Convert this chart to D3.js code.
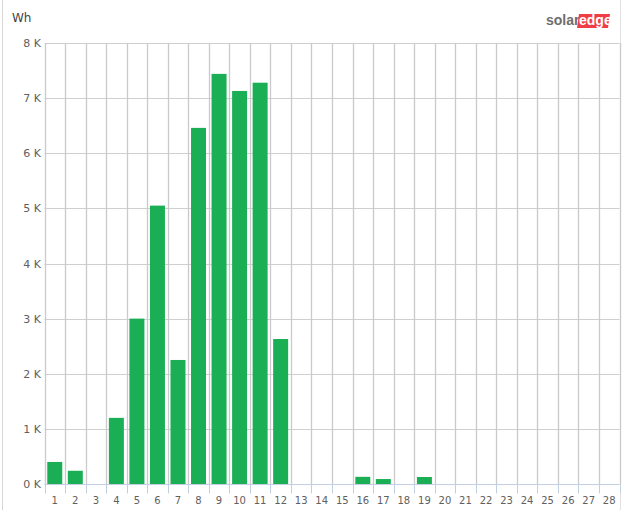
<!DOCTYPE html>
<html>
<head>
<meta charset="utf-8">
<script src="https://cdn.jsdelivr.net/npm/d3@7"></script>
<style>
  html, body { margin: 0; padding: 0; background: #fff; }
  svg { display: block; }
</style>
</head>
<body>
<svg id="chart" width="624" height="510"></svg>
<script>
const days = ["1","2","3","4","5","6","7","8","9","10","11","12","13","14","15","16","17","18","19","20","21","22","23","24","25","26","27","28"];
const energyWh = [400, 240, 0, 1200, 3000, 5050, 2250, 6460, 7440, 7130, 7280, 2630, 0, 0, 0, 130, 90, 0, 127, 0, 0, 0, 0, 0, 0, 0, 0, 0];
const yTicks = [0, 1000, 2000, 3000, 4000, 5000, 6000, 7000, 8000];
const yTickLabels = ["0 K", "1 K", "2 K", "3 K", "4 K", "5 K", "6 K", "7 K", "8 K"];
const unitLabel = "Wh";

const svg = d3.select("#chart");
const W = 624, H = 510;
const m = { left: 44.5, right: 4.5, top: 43, bottom: 26 };
const plotR = W - m.right;
const plotB = H - m.bottom;
const font = "'DejaVu Sans', Verdana, sans-serif";

// panel borders
svg.append("line").attr("x1", 2.5).attr("x2", 2.5).attr("y1", 0).attr("y2", H)
  .attr("stroke", "#d6d6d6").attr("stroke-width", 1);
svg.append("line").attr("x1", 620.5).attr("x2", 620.5).attr("y1", 0).attr("y2", H)
  .attr("stroke", "#e2e2e2").attr("stroke-width", 1);

const x = d3.scaleBand().domain(days).range([m.left, plotR]).paddingInner(0.27).paddingOuter(0.135);
const xb = d3.scaleBand().domain(days).range([m.left, plotR]);
const y = d3.scaleLinear().domain([0, 8000]).range([plotB, m.top]);

// horizontal gridlines
svg.append("g").selectAll("line").data(yTicks).join("line")
  .attr("x1", m.left).attr("x2", plotR)
  .attr("y1", d => Math.round(y(d)) + 0.5).attr("y2", d => Math.round(y(d)) + 0.5)
  .attr("stroke", "#cfcfcf").attr("stroke-width", 1);

// vertical gridlines at band boundaries
const bounds = days.map(d => xb(d)).concat([plotR]);
svg.append("g").selectAll("line").data(bounds).join("line")
  .attr("x1", d => Math.round(d) + 0.5).attr("x2", d => Math.round(d) + 0.5)
  .attr("y1", m.top).attr("y2", plotB)
  .attr("stroke", "#cacaca").attr("stroke-width", 1.3);

// bars
svg.append("g").selectAll("rect").data(days.map((d, i) => ({ d, v: energyWh[i] })).filter(o => o.v > 0)).join("rect")
  .attr("x", o => x(o.d)).attr("width", x.bandwidth())
  .attr("y", o => y(o.v)).attr("height", o => plotB - y(o.v))
  .attr("fill", "#1baf55");

// x axis
const xAxis = svg.append("g").attr("transform", `translate(0,${Math.round(plotB) + 0.5})`);
xAxis.append("line").attr("x1", m.left).attr("x2", plotR).attr("y1", 0).attr("y2", 0)
  .attr("stroke", "#c0d0e0").attr("stroke-width", 1);
xAxis.selectAll("line.tick").data(bounds).join("line").attr("class", "tick")
  .attr("x1", d => Math.round(d) + 0.5).attr("x2", d => Math.round(d) + 0.5)
  .attr("y1", 0).attr("y2", 9).attr("stroke", "#c0d0e0").attr("stroke-width", 1);
xAxis.selectAll("text").data(days).join("text")
  .attr("x", d => xb(d) + xb.bandwidth() / 2).attr("y", 19)
  .attr("text-anchor", "middle").attr("font-family", font).attr("font-size", 10)
  .attr("fill", "#606060").text(d => d);

// y labels
svg.append("g").selectAll("text").data(yTicks).join("text")
  .attr("x", 41).attr("y", d => y(d) + 4)
  .attr("text-anchor", "end").attr("font-family", font).attr("font-size", 11)
  .attr("fill", "#606060").text((d, i) => yTickLabels[i]);

// unit label
svg.append("text").attr("x", 12).attr("y", 22).attr("font-family", font).attr("font-size", 12)
  .attr("fill", "#444").text(unitLabel);

// logo
const logo = svg.append("g");
logo.append("text").attr("x", 546).attr("y", 25).attr("font-family", "'Liberation Sans', Arial, sans-serif")
  .attr("font-weight", "bold").attr("font-size", 14).attr("fill", "#6e6e6e").text("solar");
logo.append("path").attr("d", "M579,14 L610,14 L608,28 L577,28 Z").attr("fill", "#ef3e45");
logo.append("text").attr("x", 579).attr("y", 25).attr("font-family", "'Liberation Sans', Arial, sans-serif")
  .attr("font-weight", "bold").attr("font-size", 14).attr("fill", "#fff").text("edge");
</script>
</body>
</html>
